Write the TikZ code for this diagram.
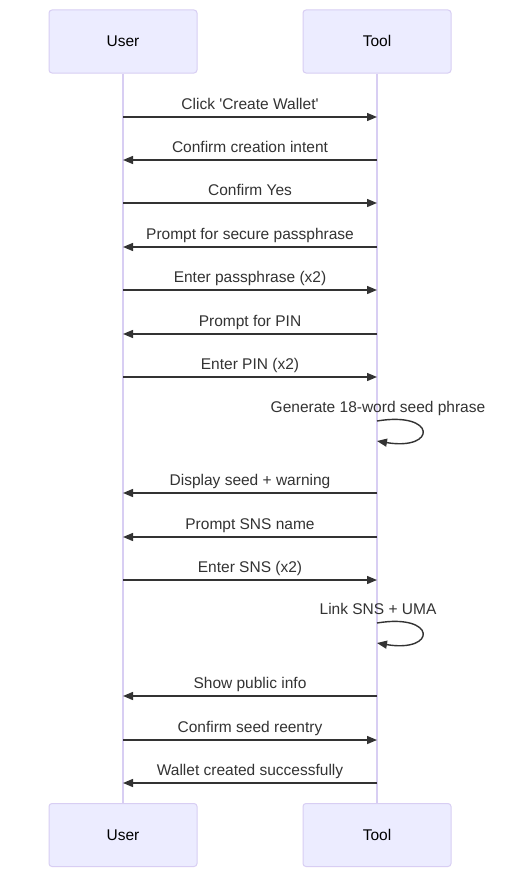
\documentclass[tikz,border=0pt]{standalone}
\usepackage{fontspec}
\setmainfont{Liberation Sans}
\usetikzlibrary{arrows.meta}
\definecolor{actfill}{HTML}{ECECFF}
\definecolor{actline}{HTML}{D8CEF3}
\definecolor{txt}{HTML}{333333}
\begin{document}
\begin{tikzpicture}[x=1pt,y=-1pt,
  actor/.style={draw=actline,fill=actfill,line width=1pt,rounded corners=3pt,
    minimum width=148pt,minimum height=63pt,inner sep=0pt,text=black,
    text height=11pt,text depth=0pt,
    font=\fontsize{15.5}{18}\selectfont},
  life/.style={draw=actline,line width=1.2pt},
  msg/.style={draw=txt,line width=1.4pt,-{Triangle[length=10pt,width=8pt]}},
  lbl/.style={text=txt,font=\fontsize{15.5}{18}\selectfont,inner sep=0pt,
    text height=11pt,text depth=0pt}]
\useasboundingbox (0,0) rectangle (531,891);
\fill[white] (0,0) rectangle (531,891);
% lifelines
\node[actor] (uT) at (123,41.5) {User};
\node[actor] (tT) at (377,41.5) {Tool};
\node[actor] (uB) at (123,835) {User};
\node[actor] (tB) at (377,835) {Tool};
\draw[life] (uT.south) -- (uB.north);
\draw[life] (tT.south) -- (tB.north);
% message endpoints
\foreach \n/\y in {1/117,2/160,3/203,4/247,5/290,6/334,7/377,8/493,9/537,10/580,11/696,12/740,13/783}{
  \coordinate (u\n) at (123,\y);
  \coordinate (t\n) at (377,\y);
}
\draw[msg] (u1) -- (t1);
\node[lbl] at (250,103.5) {Click \textquotesingle Create Wallet\textquotesingle};
\draw[msg] (t2) -- (u2);
\node[lbl] at (250,146.5) {Confirm creation intent};
\draw[msg] (u3) -- (t3);
\node[lbl] at (250,189.5) {Confirm Yes};
\draw[msg] (t4) -- (u4);
\node[lbl] at (250,233.5) {Prompt for secure passphrase};
\draw[msg] (u5) -- (t5);
\node[lbl] at (250,276.5) {Enter passphrase (x2)};
\draw[msg] (t6) -- (u6);
\node[lbl] at (250,320.5) {Prompt for PIN};
\draw[msg] (u7) -- (t7);
\node[lbl] at (250,363.5) {Enter PIN (x2)};
% self loop 1
\coordinate (la1) at (377,421);
\coordinate (lb1) at (377,441);
\draw[msg] (la1) .. controls (437,411) and (437,451) .. (lb1);
\node[lbl] at (378,407) {Generate 18-word seed phrase};
\draw[msg] (t8) -- (u8);
\node[lbl] at (250,479.5) {Display seed + warning};
\draw[msg] (t9) -- (u9);
\node[lbl] at (250,523.5) {Prompt SNS name};
\draw[msg] (u10) -- (t10);
\node[lbl] at (250,566.5) {Enter SNS (x2)};
% self loop 2
\coordinate (la2) at (377,623);
\coordinate (lb2) at (377,643);
\draw[msg] (la2) .. controls (437,613) and (437,653) .. (lb2);
\node[lbl] at (378,609) {Link SNS + UMA};
\draw[msg] (t11) -- (u11);
\node[lbl] at (250,682.5) {Show public info};
\draw[msg] (u12) -- (t12);
\node[lbl] at (250,726.5) {Confirm seed reentry};
\draw[msg] (t13) -- (u13);
\node[lbl] at (250,769.5) {Wallet created successfully};
\end{tikzpicture}
\end{document}
